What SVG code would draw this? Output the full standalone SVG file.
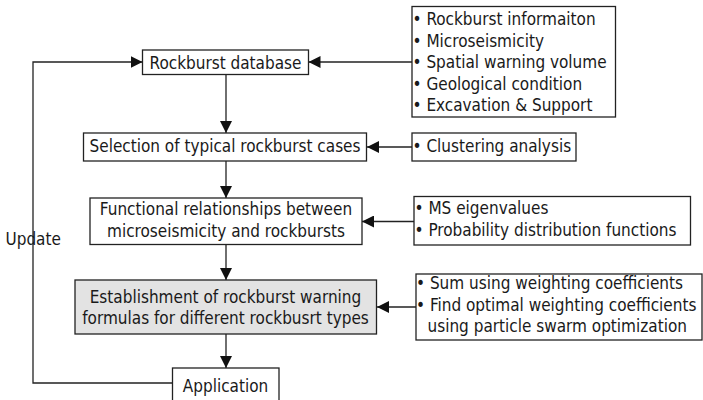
<svg xmlns="http://www.w3.org/2000/svg" width="703" height="400" viewBox="0 0 703 400">
  <defs>
    <marker id="arrow" viewBox="0 0 12 12" refX="12" refY="6" markerWidth="12" markerHeight="12" markerUnits="userSpaceOnUse" orient="auto">
      <path d="M0,0 L12,6 L0,12 Z" fill="#111"/>
    </marker>
    <style>
      .box { fill: #fff; stroke: #222; stroke-width: 1.3; }
      .box.key { fill: #e3e3e3; }
      .lbl { font-family: "DejaVu Sans Condensed", "DejaVu Sans", sans-serif; font-stretch: condensed; font-size: 17px; fill: #1a1a1a; }
      .mid { text-anchor: middle; }
      .edge { fill: none; stroke: #222; stroke-width: 1.3; }
      .edge.head { marker-end: url(#arrow); }
    </style>
  </defs>

  <rect width="703" height="400" fill="#fff"/>

  <!-- connectors -->
  <g id="connectors">
    <path class="edge head" d="M226,74.5 V133"/>
    <path class="edge head" d="M226,161 V198"/>
    <path class="edge head" d="M226,244.5 V280"/>
    <path class="edge head" d="M226,334 V368"/>
    <path class="edge head" d="M412,62 H308.5"/>
    <path class="edge head" d="M412,147 H367"/>
    <path class="edge head" d="M414,221.5 H362"/>
    <path class="edge head" d="M416,307 H377"/>
    <!-- feedback loop from Application back to the database -->
    <path class="edge head" d="M172.5,383 H33 V62 H142.5"/>
    <text class="lbl" x="5.5" y="245">Update</text>
  </g>

  <g id="db">
    <rect class="box" x="142.5" y="50" width="166" height="24.5"/>
    <text class="lbl mid" x="225.5" y="68.5">Rockburst database</text>
  </g>

  <g id="db-sources">
    <rect class="box" x="412" y="6.5" width="203.5" height="110.5"/>
    <text class="lbl" x="412.5" y="25">• Rockburst informaiton</text>
    <text class="lbl" x="412.5" y="46.5">• Microseismicity</text>
    <text class="lbl" x="412.5" y="68">• Spatial warning volume</text>
    <text class="lbl" x="412.5" y="89.5">• Geological condition</text>
    <text class="lbl" x="412.5" y="111">• Excavation &amp; Support</text>
  </g>

  <g id="selection">
    <rect class="box" x="83.5" y="133" width="283" height="28"/>
    <text class="lbl mid" x="225" y="152">Selection of typical rockburst cases</text>
  </g>

  <g id="clustering">
    <rect class="box" x="412" y="133" width="164" height="28"/>
    <text class="lbl" x="412.5" y="152">• Clustering analysis</text>
  </g>

  <g id="relationships">
    <rect class="box" x="90" y="198" width="272" height="46.5"/>
    <text class="lbl mid" x="226" y="215">Functional relationships between</text>
    <text class="lbl mid" x="226" y="236.5">microseismicity and rockbursts</text>
  </g>

  <g id="ms-inputs">
    <rect class="box" x="414" y="196.5" width="276.5" height="48.5"/>
    <text class="lbl" x="414.5" y="214">• MS eigenvalues</text>
    <text class="lbl" x="414.5" y="235.5">• Probability distribution functions</text>
  </g>

  <g id="formulas">
    <rect class="box key" x="75" y="280" width="301.5" height="54"/>
    <text class="lbl mid" x="225.5" y="302.5">Establishment of rockburst warning</text>
    <text class="lbl mid" x="225.5" y="324">formulas for different rockbusrt types</text>
  </g>

  <g id="weighting">
    <rect class="box" x="416" y="274" width="286" height="66"/>
    <text class="lbl" x="416" y="289">• Sum using weighting coefficients</text>
    <text class="lbl" x="416" y="310.5">• Find optimal weighting coefficients</text>
    <text class="lbl" x="427.5" y="332">using particle swarm optimization</text>
  </g>

  <g id="application">
    <rect class="box" x="172.5" y="368" width="106.5" height="34"/>
    <text class="lbl mid" x="225.5" y="391.5">Application</text>
  </g>
</svg>
